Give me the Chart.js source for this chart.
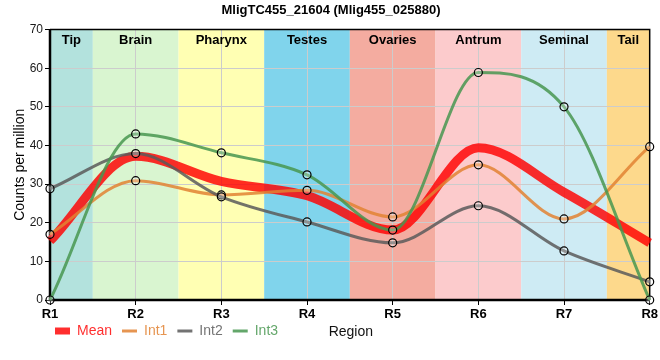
<!DOCTYPE html>
<html>
<head>
<meta charset="utf-8">
<script src="https://cdn.jsdelivr.net/npm/chart.js@4"></script>
<style>
html,body{margin:0;padding:0;background:#fff;}
#wrap{width:660px;height:360px;}
</style>
</head>
<body>
<div id="wrap"><canvas id="c" width="660" height="360"></canvas></div>
<script>
const categories = ['R1','R2','R3','R4','R5','R6','R7','R8'];
const meanValues = [15.3, 37.2, 30.7, 27.0, 18.1, 39.4, 27.9, 14.8];
const int1Values = [17.0, 30.9, 27.2, 28.4, 21.5, 35.0, 21.0, 39.7];
const int2Values = [28.8, 37.9, 26.7, 20.2, 14.8, 24.4, 12.7, 4.7];
const int3Values = [0.0, 43.0, 38.1, 32.4, 18.1, 58.9, 50.0, 0.0];
const regionNames = ['Tip','Brain','Pharynx','Testes','Ovaries','Antrum','Seminal','Tail'];
const regionColors = ['#b3e2dd','#d9f5d0','#ffffb3','#80d4ec','#f4aca0','#fccbcc','#ceebf4','#fdd98c'];
const yTicks = [0,10,20,30,40,50,60,70];

const bandPlugin = {
  id: 'bands',
  beforeDraw(chart) {
    const {ctx, chartArea, scales} = chart;
    const x = scales.x;
    if (chart.legend) {
      const h = chart.legend.bottom - chart.legend.top;
      chart.legend.left = 45;
      chart.legend.top = 314;
      chart.legend.bottom = 314 + h;
    }
    ctx.save();
    for (let i = 0; i < regionNames.length; i++) {
      let l = i === 0 ? chartArea.left : (x.getPixelForValue(i - 1) + x.getPixelForValue(i)) / 2;
      let r = i === regionNames.length - 1 ? chartArea.right : (x.getPixelForValue(i) + x.getPixelForValue(i + 1)) / 2;
      ctx.fillStyle = regionColors[i];
      ctx.fillRect(l, chartArea.top, r - l, chartArea.bottom - chartArea.top);
    }
    ctx.restore();
  },
  beforeDatasetsDraw(chart) {
    const {ctx, chartArea, scales} = chart;
    const x = scales.x;
    ctx.save();
    ctx.fillStyle = '#000';
    ctx.font = 'bold 13px "Liberation Sans", Arial, sans-serif';
    ctx.textAlign = 'center';
    ctx.textBaseline = 'middle';
    for (let i = 0; i < regionNames.length; i++) {
      let l = i === 0 ? chartArea.left : (x.getPixelForValue(i - 1) + x.getPixelForValue(i)) / 2;
      let r = i === regionNames.length - 1 ? chartArea.right : (x.getPixelForValue(i) + x.getPixelForValue(i + 1)) / 2;
      ctx.fillText(regionNames[i], (l + r) / 2, chartArea.top + 11);
    }
    ctx.strokeStyle = '#000';
    ctx.lineWidth = 1.5;
    ctx.beginPath();
    ctx.moveTo(chartArea.left, chartArea.top);
    ctx.lineTo(chartArea.right, chartArea.top);
    ctx.lineTo(chartArea.right, chartArea.bottom);
    ctx.stroke();
    ctx.lineWidth = 2.5;
    ctx.beginPath();
    ctx.moveTo(chartArea.left, chartArea.top);
    ctx.lineTo(chartArea.left, chartArea.bottom);
    ctx.lineTo(chartArea.right, chartArea.bottom);
    ctx.stroke();
    ctx.restore();
  },
  afterDraw(chart) {
    const {ctx, chartArea} = chart;
    ctx.save();
    ctx.fillStyle = '#111';
    ctx.font = '14px "Liberation Sans", Arial, sans-serif';
    ctx.textAlign = 'center';
    ctx.textBaseline = 'middle';
    ctx.fillText('Region', (chartArea.left + chartArea.right) / 2 + 1, 332);
    ctx.restore();
  }
};

const ptFill = 'rgba(255,255,255,0.25)';
function ds(label, data, color, width, points) {
  return {
    label, data,
    borderColor: color,
    backgroundColor: color,
    borderWidth: width,
    cubicInterpolationMode: 'monotone',
    pointRadius: points ? 4 : 0,
    pointHoverRadius: points ? 4 : 0,
    pointBackgroundColor: ptFill,
    pointBorderColor: '#000',
    pointBorderWidth: 1.2,
    fill: false,
    clip: false
  };
}

new Chart(document.getElementById('c'), {
  type: 'line',
  data: {
    labels: categories,
    datasets: [
      ds('Int3', int3Values, 'rgba(72,150,80,0.85)', 3, true),
      ds('Int2', int2Values, 'rgba(90,90,90,0.85)', 3, true),
      ds('Int1', int1Values, 'rgba(226,130,50,0.85)', 3, true),
      ds('Mean', meanValues, 'rgba(255,0,0,0.82)', 9, false)
    ]
  },
  options: {
    responsive: false,
    animation: false,
    events: [],
    layout: {padding: {left: 12, right: 10, top: 0, bottom: 2}},
    plugins: {
      title: {
        display: true,
        text: 'MligTC455_21604 (Mlig455_025880)',
        color: '#000',
        font: {family: '"Liberation Sans", Arial, sans-serif', size: 13, weight: 'bold'},
        padding: {top: 3, bottom: 11}
      },
      legend: {
        display: true,
        position: 'bottom',
        align: 'start',
        reverse: true,
        labels: {
          usePointStyle: true,
          pointStyle: 'line',
          pointStyleWidth: 15,
          boxWidth: 15,
          boxHeight: 14,
          padding: 10,
          font: {family: '"Liberation Sans", Arial, sans-serif', size: 14},
          generateLabels(chart) {
            const items = Chart.defaults.plugins.legend.labels.generateLabels(chart);
            items.forEach(it => {
              const d = chart.data.datasets[it.datasetIndex];
              it.fontColor = d.borderColor;
              it.lineWidth = d.borderWidth === 9 ? 7 : d.borderWidth;
              it.strokeStyle = d.borderColor;
              it.pointStyle = 'line';
            });
            return items;
          }
        }
      },
      tooltip: {enabled: false}
    },
    scales: {
      x: {
        offset: false,
        grid: {color: '#cccccc', lineWidth: 1, tickLength: 5, tickColor: '#000', drawTicks: true},
        border: {display: false},
        ticks: {color: '#000', font: {family: '"Liberation Sans", Arial, sans-serif', size: 13, weight: 'bold'}, padding: 2, maxRotation: 0},
        afterFit(scale) { scale.height = 24; }
      },
      y: {
        min: 0, max: 70,
        afterBuildTicks(scale) { scale.ticks = yTicks.map(v => ({value: v})); },
        grid: {color: '#cccccc', lineWidth: 1, tickLength: 5, tickColor: '#000'},
        border: {display: false},
        ticks: {color: '#1a1a1a', font: {family: '"Liberation Sans", Arial, sans-serif', size: 12}, padding: 2},
        title: {display: true, text: 'Counts per million', color: '#000', font: {family: '"Liberation Sans", Arial, sans-serif', size: 14}, padding: {top: 0, bottom: 4}},
        afterFit(scale) { scale.width = 38; }
      }
    }
  },
  plugins: [bandPlugin]
});
</script>
</body>
</html>
